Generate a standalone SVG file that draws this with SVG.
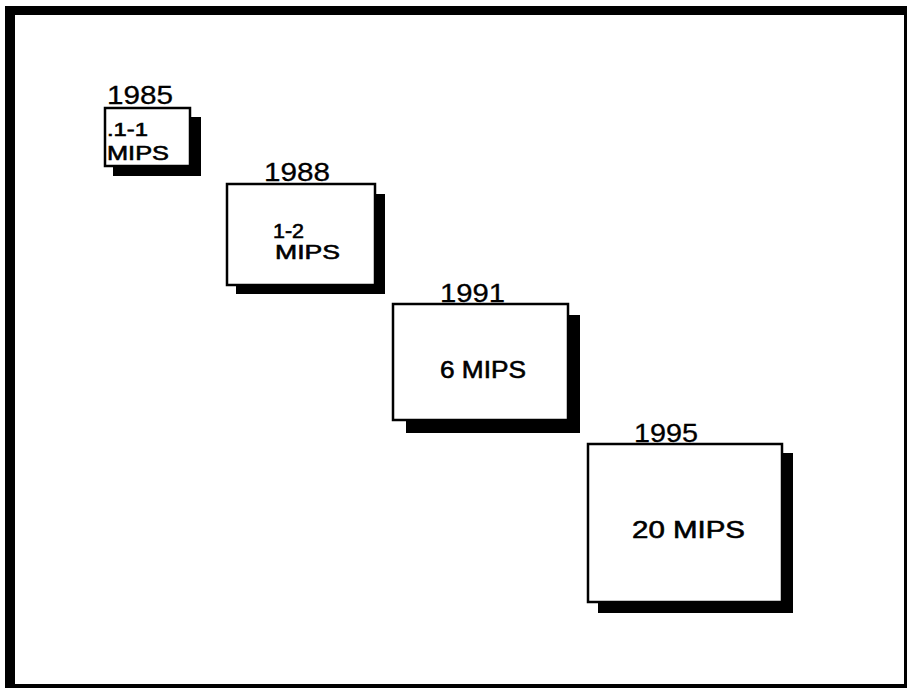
<svg xmlns="http://www.w3.org/2000/svg" width="907" height="688" viewBox="0 0 907 688">
<style>
.bg{fill:#fff}
.frame{fill:#000}
.box{fill:#fff;stroke:#000;stroke-width:2.5}
.shadow{fill:#000}
.yr{font-family:"Liberation Sans",Arial,sans-serif;font-size:26px;fill:#000;stroke:#000;stroke-width:0.3}
.lbl{font-family:"Liberation Sans",Arial,sans-serif;fill:#000;stroke:#000;stroke-width:0.6}
</style>
<rect class="bg" x="0" y="0" width="907" height="688"/>
<g id="frame">
<rect class="frame" x="5" y="6" width="902" height="9"/>
<rect class="frame" x="5" y="6" width="10" height="682"/>
<rect class="frame" x="5" y="684" width="902" height="4"/>
<rect class="frame" x="904" y="6" width="3" height="682"/>
</g>
<g id="node-1985">
<rect class="shadow" x="113" y="117" width="88" height="59"/>
<rect class="box" x="105" y="108" width="85" height="58"/>
<text class="yr" x="107" y="104" textLength="66" lengthAdjust="spacingAndGlyphs">1985</text>
<text class="lbl" x="107" y="136" font-size="18" textLength="41" lengthAdjust="spacingAndGlyphs">.1-1</text>
<text class="lbl" x="107" y="160" font-size="20" textLength="62" lengthAdjust="spacingAndGlyphs">MIPS</text>
</g>
<g id="node-1988">
<rect class="shadow" x="236" y="194" width="149" height="100"/>
<rect class="box" x="227" y="184" width="148" height="101"/>
<text class="yr" x="264" y="181" textLength="66" lengthAdjust="spacingAndGlyphs">1988</text>
<text class="lbl" x="273" y="238" font-size="20" textLength="31" lengthAdjust="spacingAndGlyphs">1-2</text>
<text class="lbl" x="275" y="259" font-size="20" textLength="65" lengthAdjust="spacingAndGlyphs">MIPS</text>
</g>
<g id="node-1991">
<rect class="shadow" x="406" y="315" width="174" height="118"/>
<rect class="box" x="393" y="304" width="175" height="116"/>
<text class="yr" x="440" y="302" textLength="65" lengthAdjust="spacingAndGlyphs">1991</text>
<text class="lbl" x="440" y="378" font-size="24" textLength="86" lengthAdjust="spacingAndGlyphs">6 MIPS</text>
</g>
<g id="node-1995">
<rect class="shadow" x="598" y="453" width="195" height="160"/>
<rect class="box" x="588" y="444" width="194" height="158"/>
<text class="yr" x="634" y="442" textLength="64" lengthAdjust="spacingAndGlyphs">1995</text>
<text class="lbl" x="632" y="538" font-size="24" textLength="113" lengthAdjust="spacingAndGlyphs">20 MIPS</text>
</g>
<g id="connectors"/>
</svg>
